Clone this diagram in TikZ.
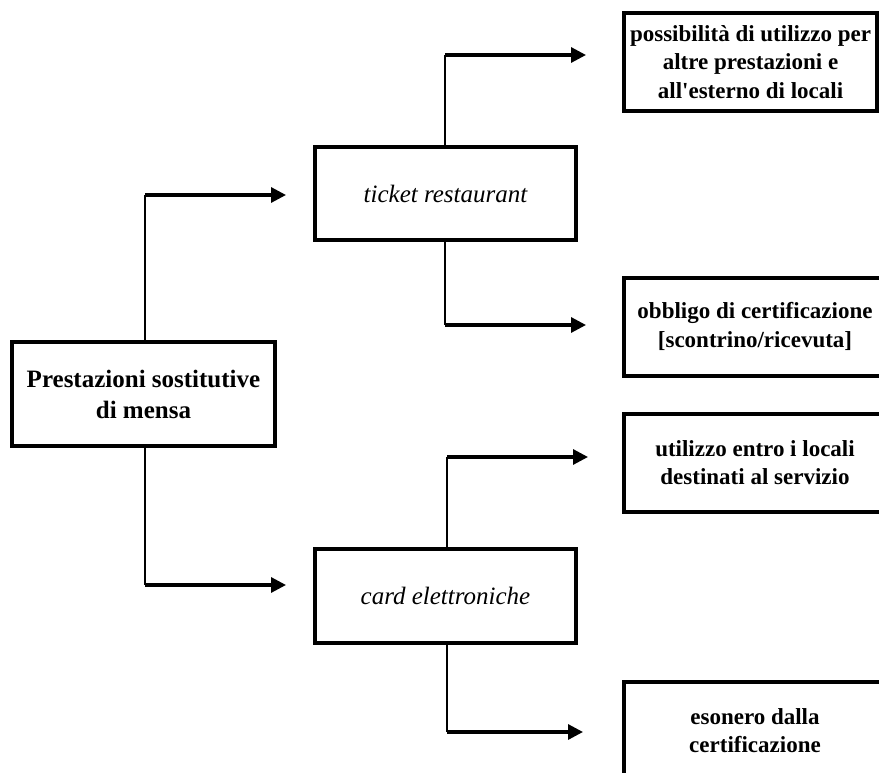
\documentclass[tikz,border=0pt]{standalone}
\usepackage{fontspec}
\setmainfont{Liberation Serif}
\usetikzlibrary{
  arrows.meta,
  positioning
}
\definecolor{chartInk}{HTML}{000000}
\tikzset{
  every node/.style={text=chartInk},
  box/.style={
    draw=chartInk,
    line width=4pt,
    fill=white,
    inner sep=0pt,
    align=center
  },
  rootbox/.style={
    box,
    minimum width=263pt,
    minimum height=104pt,
    font=\bfseries\fontsize{25}{31}\selectfont
  },
  kindbox/.style={
    box,
    minimum width=261pt,
    minimum height=93pt,
    font=\itshape\fontsize{25}{30}\selectfont
  },
  notebox/.style={
    box,
    minimum width=262pt,
    minimum height=98pt,
    font=\bfseries\fontsize{23}{28.5}\selectfont
  },
  stem/.style={
    line width=1.5pt,
    draw=chartInk
  },
  link/.style={
    -{Triangle[length=15pt,width=15pt]},
    line width=3.2pt,
    draw=chartInk
  }
}

\begin{document}
\begin{tikzpicture}[x=1pt,y=-1pt]
  \useasboundingbox (0,0) rectangle (879,773);

  \node[rootbox] (main) at (143.5,394) {Prestazioni sostitutive\\di mensa};
  \node[kindbox] (ticket) at (445.5,193.5) {ticket restaurant};
  \node[kindbox, minimum height=94pt] (card) at (445.5,596) {card elettroniche};

  \node[notebox, minimum width=253pt] (altro) at (750.5,62)
    {possibilità di utilizzo per\\altre prestazioni e\\all\textquotesingle esterno di locali};
  \node[notebox] (obbligo) at (755,326.5)
    {obbligo di certificazione\\{[}scontrino/ricevuta{]}};
  \node[notebox] (locali) at (755,462.5)
    {utilizzo entro i locali\\destinati al servizio};
  \node[notebox] (esonero) at (755,730.5)
    {esonero dalla\\certificazione};

  \coordinate (m1) at (145,195);
  \coordinate (m2) at (145,585);
  \coordinate (t1) at (445,55);
  \coordinate (t2) at (445,325);
  \coordinate (c1) at (447,457);
  \coordinate (c2) at (447,732);

  \draw[stem] (m1 |- main.north) -- (m1);
  \draw[link, shorten >=27pt] (m1) -- (m1 -| ticket.west);
  \draw[stem] (m2 |- main.south) -- (m2);
  \draw[link, shorten >=27pt] (m2) -- (m2 -| card.west);

  \draw[stem] (t1 |- ticket.north) -- (t1);
  \draw[link, shorten >=36pt] (t1) -- (t1 -| altro.west);
  \draw[stem] (t2 |- ticket.south) -- (t2);
  \draw[link, shorten >=36pt] (t2) -- (t2 -| obbligo.west);

  \draw[stem] (c1 |- card.north) -- (c1);
  \draw[link, shorten >=34pt] (c1) -- (c1 -| locali.west);
  \draw[stem] (c2 |- card.south) -- (c2);
  \draw[link, shorten >=39pt] (c2) -- (c2 -| esonero.west);
\end{tikzpicture}
\end{document}
